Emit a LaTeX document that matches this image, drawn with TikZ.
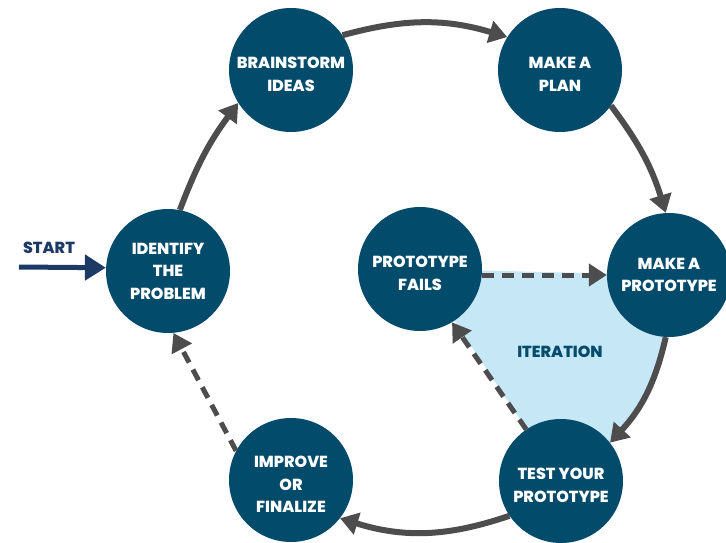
\documentclass[tikz,border=0pt]{standalone}
\usepackage{fontspec}
\setmainfont{Poppins}[BoldFont={* ExtraBold}]
\usetikzlibrary{arrows.meta,backgrounds}

\definecolor{stepblue}{HTML}{034B6B}
\definecolor{arrowgray}{HTML}{4D4D4D}
\definecolor{iterblue}{HTML}{C6E8F6}
\definecolor{startblue}{HTML}{1D3A66}

\newcommand{\lowertext}{\rule{0pt}{20pt}}

\tikzset{
    stepnode/.style={circle, fill=stepblue, minimum size=124pt, inner sep=0pt,
        text=white, align=center, font=\bfseries\fontsize{16}{22.5}\selectfont},
    labeltext/.style={font=\bfseries\fontsize{16}{22.5}\selectfont},
    flow/.style={draw=arrowgray, line width=6pt, -{Triangle[length=18pt,width=22pt]}},
    retry/.style={flow, line width=5pt, dash pattern=on 12pt off 8pt},
}

\begin{document}
\begin{tikzpicture}[x=1pt, y=1pt]
    \useasboundingbox (0,0) rectangle (726,-543);

    \node[stepnode] (ident) at (168,-271) {IDENTIFY\\THE\\PROBLEM};
    \node[stepnode] (brain) at (291,-70) {\lowertext BRAINSTORM\\IDEAS};
    \node[stepnode] (plan) at (560,-70) {\lowertext MAKE A\\PLAN};
    \node[stepnode] (proto) at (669,-275) {MAKE A\\PROTOTYPE};
    \node[stepnode] (fails) at (420,-269) {\lowertext PROTOTYPE\\FAILS};
    \node[stepnode] (test) at (561,-481) {\lowertext TEST YOUR\\PROTOTYPE};
    \node[stepnode] (improve) at (291,-480) {\lowertext IMPROVE\\OR\\FINALIZE};

    \begin{scope}[on background layer]
        \fill[iterblue] (fails.center) -- (proto.center) to[bend left=30] (test.center) -- cycle;
    \end{scope}
    \node[labeltext, text=stepblue] (iter) at (560,-352) {ITERATION};

    % start
    \node[labeltext, text=startblue] (start) at (49,-248) {START};
    \coordinate (entry) at (19,-267);
    \draw[startblue, line width=5pt, -{Triangle[length=21pt,width=25pt]}] (entry) -- (ident.177);

    % main cycle
    \draw[flow] (ident.79) to[bend left=8] (brain.212);
    \draw[flow] (brain.34) to[bend left=16] (plan.148);
    \draw[flow] (plan.-35) to[bend left=10] (proto.93);
    \draw[flow] (proto.-93) to[bend left=15] (test.38);
    \draw[flow] (test.214) to[bend left=18] (improve.-38);
    \draw[retry] (improve.152) -- (ident.-85);

    % iteration loop
    \draw[retry] (fails.east |- proto.west) -- (proto.west);
    \draw[retry] (test.124) -- (fails.-59);
\end{tikzpicture}
\end{document}
